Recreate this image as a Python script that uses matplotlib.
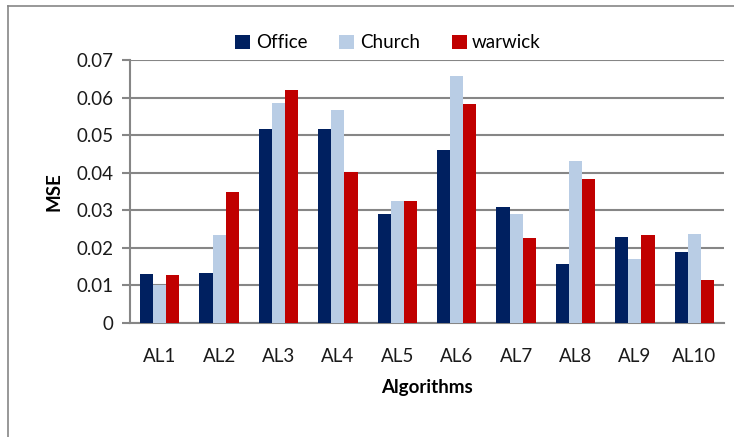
import matplotlib
matplotlib.use("Agg")
import matplotlib.pyplot as plt
import numpy as np
from matplotlib.lines import Line2D
from matplotlib.patches import Patch

categories = ["AL1", "AL2", "AL3", "AL4", "AL5", "AL6", "AL7", "AL8", "AL9", "AL10"]
office = [0.0130, 0.0132, 0.0516, 0.0516, 0.0289, 0.0460, 0.0309, 0.0157, 0.0230, 0.0189]
church = [0.0100, 0.0234, 0.0586, 0.0566, 0.0326, 0.0658, 0.0289, 0.0430, 0.0170, 0.0238]
warwick = [0.0128, 0.0350, 0.0620, 0.0402, 0.0325, 0.0584, 0.0226, 0.0383, 0.0234, 0.0114]
series_names = ["Office", "Church", "warwick"]
colors = ["#002060", "#B9CDE5", "#C00000"]
yticks = [0, 0.01, 0.02, 0.03, 0.04, 0.05, 0.06, 0.07]
ytick_labels = ["0", "0.01", "0.02", "0.03", "0.04", "0.05", "0.06", "0.07"]

plt.rcParams['font.family'] = ['Lato', 'DejaVu Sans']
W, H = 734, 437
fig = plt.figure(figsize=(W/100, H/100), dpi=100)
ax = fig.add_axes([130/W, 1-323/H, (724-130)/W, (323-60)/H])

x = np.arange(len(categories))
bw = 0.222
for i, (vals, c) in enumerate(zip([office, church, warwick], colors)):
    ax.bar(x + (i-1)*bw, vals, width=bw, color=c, zorder=3, label=series_names[i])

ax.set_xlim(-0.5, len(categories)-0.5)
ax.set_ylim(0, 0.07)
ax.set_yticks(yticks)
ax.set_yticklabels(ytick_labels, fontsize=13.5, color="#1a1a1a")
ax.set_xticks(x)
ax.set_xticklabels(categories, fontsize=13.5, color="#1a1a1a")
ax.tick_params(axis='x', length=0, pad=18)
ax.tick_params(axis='y', length=6, width=1.5, color="#868686", pad=6)
ax.grid(axis='y', color="#868686", linewidth=1.5, zorder=0)
for s in ["top", "right"]:
    ax.spines[s].set_visible(False)
ax.spines["left"].set_color("#868686")
ax.spines["left"].set_linewidth(1.5)
ax.spines["bottom"].set_color("#868686")
ax.spines["bottom"].set_linewidth(1.5)
ax.set_ylabel("MSE", fontsize=13.5, fontweight="bold", labelpad=10)
ax.set_xlabel("Algorithms", fontsize=13.5, fontweight="bold", labelpad=10)

handles = [Patch(facecolor=c) for c in colors]
fig.legend(handles, series_names, loc="center", bbox_to_anchor=(388/W, 1-43/H),
           ncol=3, frameon=False, fontsize=13.5, handlelength=0.8, handleheight=0.8,
           columnspacing=1.7, handletextpad=0.3)

fig.add_artist(Line2D([8/W, 1], [1-6/H, 1-6/H], color="#868686", linewidth=1.2, transform=fig.transFigure))
fig.add_artist(Line2D([8/W, 8/W], [0, 1-6/H], color="#868686", linewidth=1.2, transform=fig.transFigure))

fig.savefig("out.png", dpi=100)
